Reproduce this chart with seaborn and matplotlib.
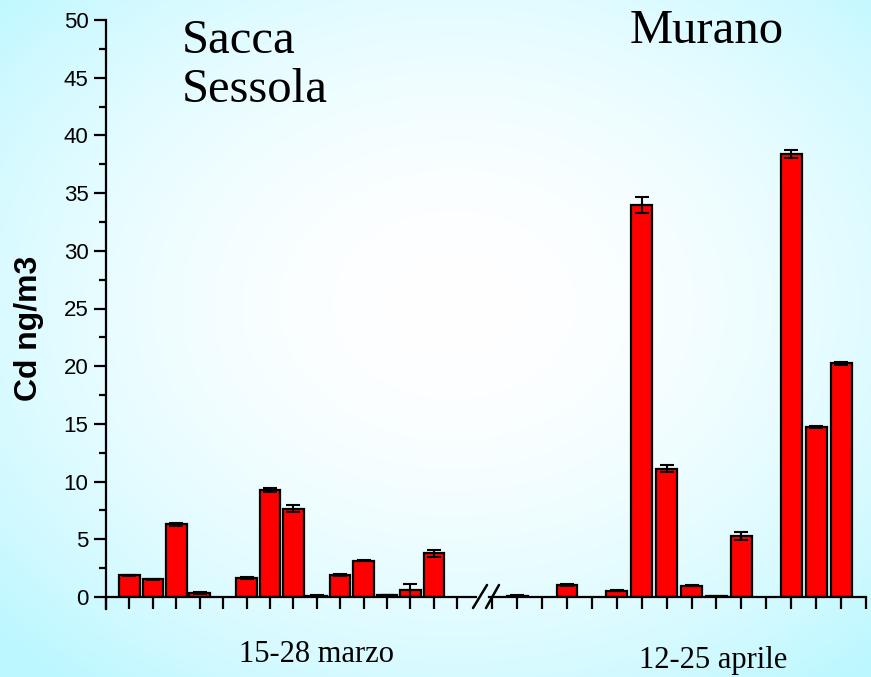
import numpy as np
import pandas as pd
import matplotlib
matplotlib.use("Agg")
import matplotlib.pyplot as plt
import seaborn as sns

# Cadmium concentrations (ng/m3), day index within each sampling period
sacca_days = [1, 2, 3, 4, 6, 7, 8, 9, 10, 11, 12, 13, 14]
sacca_cd = [1.9, 1.55, 6.3, 0.35, 1.65, 9.27, 7.65, 0.12, 1.9, 3.15, 0.15, 0.57, 3.8]
sacca_err = [0.04, 0.04, 0.15, 0.05, 0.08, 0.2, 0.3, 0.02, 0.05, 0.05, 0.02, 0.55, 0.3]

murano_days = [1, 3, 5, 6, 7, 8, 9, 10, 12, 13, 14]
murano_cd = [0.12, 1.04, 0.55, 33.95, 11.1, 0.98, 0.05, 5.28, 38.4, 14.76, 20.24]
murano_err = [0.03, 0.08, 0.03, 0.7, 0.3, 0.05, 0.02, 0.38, 0.35, 0.1, 0.15]

yticks = [0, 5, 10, 15, 20, 25, 30, 35, 40, 45, 50]

sns.set_style("ticks")
plt.rcParams["font.family"] = ["Liberation Sans", "DejaVu Sans"]
plt.rcParams.update({"text.color": "black", "axes.labelcolor": "black",
                     "xtick.color": "black", "ytick.color": "black",
                     "axes.edgecolor": "black"})

W, H = 871, 677
fig = plt.figure(figsize=(W / 100, H / 100), dpi=100)

# soft radial background: white centre fading to pale cyan at the edges
bg = fig.add_axes([0, 0, 1, 1], zorder=-10)
yy, xx = np.mgrid[0:H, 0:W]
cx, cy = 0.52 * W, 0.45 * H
r = np.sqrt(((xx - cx) / (0.5 * W)) ** 2 + ((yy - cy) / (0.5 * H)) ** 2) / np.sqrt(2)
t = np.clip(r, 0, 1) ** 1.9
edge = np.array([0.74, 0.97, 1.0])
img = (1 - t[..., None]) * np.array([1.0, 1.0, 1.0]) + t[..., None] * edge
bg.imshow(img, aspect="auto", extent=[0, 1, 0, 1], origin="upper")
bg.axis("off")

y0 = (H - 597) / H
hgt = (597 - 20) / H
axL = fig.add_axes([106 / W, y0, (476 - 106) / W, hgt])
axR = fig.add_axes([489 / W, y0, (866 - 489) / W, hgt])

lw = 1.6
for ax, days, vals, errs, width, xlim in [
    (axL, sacca_days, sacca_cd, sacca_err, 0.88, (0, 15.8)),
    (axR, murano_days, murano_cd, murano_err, 0.84, (-0.13, 15.0)),
]:
    ax.set_facecolor("none")
    df = pd.DataFrame({"day": days, "cd": vals})
    sns.barplot(data=df, x="day", y="cd", native_scale=True, color="red",
                saturation=1, width=width, edgecolor="black", linewidth=1.6,
                errorbar=None, ax=ax)
    ax.errorbar(days, vals, yerr=errs, fmt="none", ecolor="black",
                elinewidth=1.5, capsize=5, capthick=1.5, zorder=5)
    ax.set_xlim(*xlim)
    ax.set_ylim(0, 50)
    ax.set_xticks(range(0, 16))
    ax.set_xticklabels([])
    ax.set_xlabel("")
    ax.set_ylabel("")
    ax.tick_params(axis="x", direction="out", length=8.6, width=lw, color="black")
    for s in ["top", "right"]:
        ax.spines[s].set_visible(False)
    for s in ["left", "bottom"]:
        ax.spines[s].set_linewidth(lw)
        ax.spines[s].set_color("black")
    ax.spines["bottom"].set_zorder(6)

axL.set_yticks(yticks)
axL.set_yticks(np.arange(2.5, 50, 5), minor=True)
axL.tick_params(axis="y", which="major", direction="out", length=8.6, width=lw,
                labelsize=16, pad=4)
axL.tick_params(axis="y", which="minor", direction="out", length=4.8, width=lw)
axL.spines["left"].set_bounds(-1.05, 50)
axL.spines["left"].set_clip_on(False)

axR.spines["left"].set_visible(False)
axR.set_yticks([])
axR.tick_params(axis="y", which="both", left=False, labelleft=False)

# axis break marks
for x_a, x_b in [(473, 487), (486, 499)]:
    fig.add_artist(plt.Line2D([x_a / W, x_b / W], [1 - 608 / H, 1 - 585 / H],
                              color="black", lw=1.8, transform=fig.transFigure))

fig.text(29 / W, 1 - 328 / H, "Cd ng/m3", rotation=90, ha="center", va="center",
         fontsize=23, fontweight="bold")

serif = ["Liberation Serif", "DejaVu Serif"]
fig.text(182 / W, 1 - 53 / H, "Sacca", family=serif, fontsize=35, va="baseline")
fig.text(182 / W, 1 - 102 / H, "Sessola", family=serif, fontsize=35, va="baseline")
fig.text(630 / W, 1 - 43 / H, "Murano", family=serif, fontsize=35, va="baseline")
fig.text(316 / W, 1 - 662 / H, "15-28 marzo", family=serif, fontsize=22,
         ha="center", va="baseline")
fig.text(713 / W, 1 - 668 / H, "12-25 aprile", family=serif, fontsize=22,
         ha="center", va="baseline")

fig.savefig("out.png", dpi=100)
